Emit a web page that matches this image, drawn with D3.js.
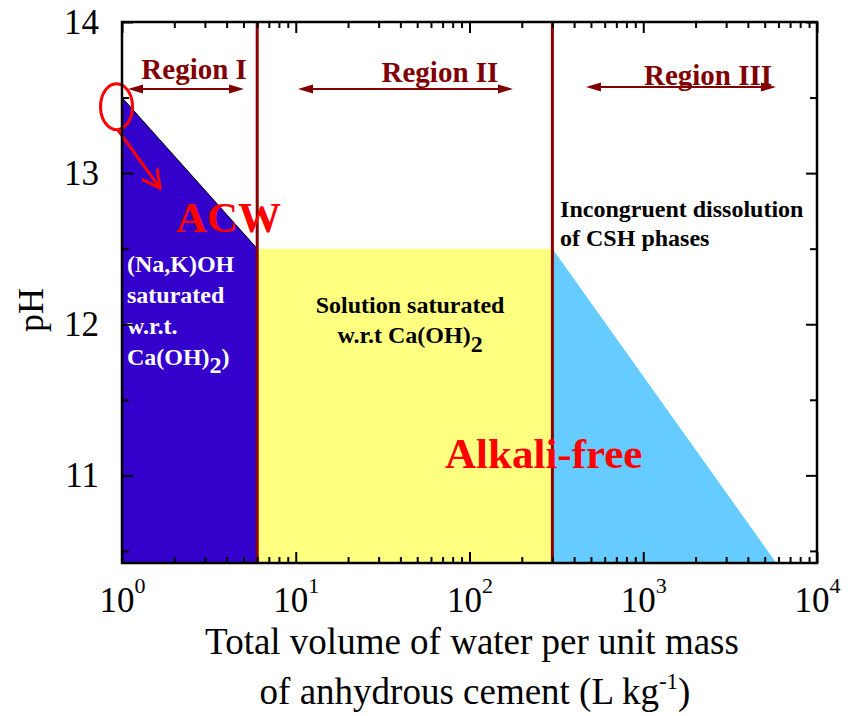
<!DOCTYPE html>
<html>
<head>
<meta charset="utf-8">
<script src="https://cdn.jsdelivr.net/npm/d3@7/dist/d3.min.js"></script>
<style>
  body { margin: 0; background: #fff; }
  svg text { font-family: "Liberation Serif", "Times New Roman", Times, serif; }
</style>
</head>
<body>
<svg id="chart" width="856" height="716"></svg>
<script>
// pH of cement pore water against water volume per unit mass of cement

// Limits between the three regions (L kg^-1)
const regionLimits = [6, 300];

// Region I: alkali (Na,K)OH dominated pore water (ACW)
const acwX = [1, 6];
const acwPH = [13.5, 12.5];

// Region II: solution buffered by portlandite
const portlanditeX = [6, 300];
const portlanditePH = [12.5, 12.5];

// Region III: incongruent dissolution of CSH
const cshX = [300, 6000];
const cshPH = [12.5, 10.4];

// Axes
const xDomain = [1, 10000];
const yDomain = [10.42, 14];
const xMajorTicks = [1, 10, 100, 1000, 10000];
const xTickExponents = ["0", "1", "2", "3", "4"];
const yMajorTicks = [11, 12, 13, 14];
const yMinorTicks = [10.5, 11.5, 12.5, 13.5];

// Region labels and their span arrows (x in L kg^-1, y in pH)
const regionNames = ["Region I", "Region II", "Region III"];
const regionLabelX = [2.6, 67.6, 2360];
const regionLabelPH = [13.62, 13.6, 13.585];
const regionArrowFrom = [1.083, 10.3, 468];
const regionArrowTo = [5.04, 178, 5800];
const regionArrowPH = [13.557, 13.557, 13.57];

const colors = {
  acw: "#3300cc",
  portlandite: "#ffff80",
  csh: "#66ccff",
  boundary: "#8b0000",
  regionText: "#800000",
  highlight: "#ff0000"
};

const svg = d3.select("#chart");
const plot = { left: 122, right: 817, top: 22, bottom: 563 };

const x = d3.scaleLog().domain(xDomain).range([plot.left, plot.right]);
const y = d3.scaleLinear().domain(yDomain).range([plot.bottom, plot.top]);

svg.append("defs").append("clipPath").attr("id", "plot-clip")
  .append("rect")
  .attr("x", plot.left).attr("y", plot.top)
  .attr("width", plot.right - plot.left).attr("height", plot.bottom - plot.top);

const toPoints = (xs, ps) => xs.map((v, i) => ({ x: v, ph: ps[i] }));

const area = d3.area()
  .x(d => x(d.x))
  .y0(y(yDomain[0]))
  .y1(d => y(d.ph));
const line = d3.line().x(d => x(d.x)).y(d => y(d.ph));

const fills = svg.append("g").attr("clip-path", "url(#plot-clip)");
fills.append("path").datum(toPoints(acwX, acwPH))
  .attr("d", area).attr("fill", colors.acw);
fills.append("path").datum(toPoints(portlanditeX, portlanditePH))
  .attr("d", area).attr("fill", colors.portlandite);
fills.append("path").datum(toPoints(cshX, cshPH))
  .attr("d", area).attr("fill", colors.csh);
fills.append("path").datum(toPoints(acwX, acwPH))
  .attr("d", line).attr("fill", "none").attr("stroke", "#000").attr("stroke-width", 1);

// Region boundaries
svg.append("g").selectAll("line").data(regionLimits).join("line")
  .attr("x1", d => x(d)).attr("x2", d => x(d))
  .attr("y1", plot.top).attr("y2", plot.bottom)
  .attr("stroke", colors.boundary).attr("stroke-width", 3);

// Region labels with double-headed arrows
function arrowHead(g, tipX, tipY, dir, color, len, half) {
  g.append("path")
    .attr("d", `M${tipX},${tipY} L${tipX - dir * len},${tipY - half} L${tipX - dir * len},${tipY + half} Z`)
    .attr("fill", color);
}
const regions = svg.append("g");
regionNames.forEach((name, i) => {
  const ay = y(regionArrowPH[i]);
  const x0 = x(regionArrowFrom[i]), x1 = x(regionArrowTo[i]);
  regions.append("line")
    .attr("x1", x0 + 6).attr("x2", x1 - 6).attr("y1", ay).attr("y2", ay)
    .attr("stroke", colors.regionText).attr("stroke-width", 2);
  arrowHead(regions, x0, ay, -1, colors.regionText, 15, 4.5);
  arrowHead(regions, x1, ay, 1, colors.regionText, 15, 4.5);
  regions.append("text")
    .attr("x", x(regionLabelX[i])).attr("y", y(regionLabelPH[i]))
    .attr("text-anchor", "middle")
    .attr("font-size", 29).attr("font-weight", "bold")
    .attr("fill", colors.regionText)
    .text(name);
});

// Multi-line labels; a line is a list of [text, baselineShift] pieces
function multiline(g, px, py, lines, opts) {
  const t = g.append("text")
    .attr("x", px).attr("y", py)
    .attr("text-anchor", opts.anchor)
    .attr("font-size", opts.size).attr("font-weight", "bold")
    .attr("fill", opts.fill);
  let prevShift = 0;
  lines.forEach((pieces, li) => {
    pieces.forEach(([str, s], pi) => {
      const ts = t.append("tspan").text(str);
      if (pi === 0) {
        ts.attr("x", px).attr("dy", (li === 0 ? 0 : opts.lineHeight) + s - prevShift);
      } else {
        ts.attr("dy", s - prevShift);
      }
      prevShift = s;
    });
  });
  return t;
}

const notes = svg.append("g");
multiline(notes, x(1.068), y(12.345), [
  [["(Na,K)OH", 0]],
  [["saturated", 0]],
  [["w.r.t.", 0]],
  [["Ca(OH)", 0], ["2", 8], [")", 0]]
], { anchor: "start", size: 24, fill: "#fff", lineHeight: 31 });

multiline(notes, x(45.5), y(12.074), [
  [["Solution saturated", 0]],
  [["w.r.t Ca(OH)", 0], ["2", 9]]
], { anchor: "middle", size: 24, fill: "#000", lineHeight: 30 });

multiline(notes, x(332), y(12.71), [
  [["Incongruent dissolution", 0]],
  [["of CSH phases", 0]]
], { anchor: "start", size: 24, fill: "#000", lineHeight: 29 });

notes.append("text")
  .attr("x", x(2.046)).attr("y", y(12.61))
  .attr("font-size", 43).attr("font-weight", "bold")
  .attr("fill", colors.highlight).text("ACW");

notes.append("text")
  .attr("x", x(72.3)).attr("y", y(11.048))
  .attr("font-size", 43).attr("font-weight", "bold")
  .attr("fill", colors.highlight).text("Alkali-free");

// Highlight of the initial pH with a pointer arrow
notes.append("ellipse")
  .attr("cx", x(0.93)).attr("cy", y(13.44))
  .attr("rx", 16).attr("ry", 23)
  .attr("fill", "none").attr("stroke", colors.highlight).attr("stroke-width", 3);
{
  const sx = x(0.948), sy = y(13.285), ex = x(1.655), ey = y(12.90);
  const ang = Math.atan2(ey - sy, ex - sx);
  const hl = 20, spread = Math.PI / 6.5;
  notes.append("path")
    .attr("d", `M${sx},${sy} L${ex},${ey}` +
      ` M${ex - hl * Math.cos(ang - spread)},${ey - hl * Math.sin(ang - spread)} L${ex},${ey}` +
      ` L${ex - hl * Math.cos(ang + spread)},${ey - hl * Math.sin(ang + spread)}`)
    .attr("fill", "none").attr("stroke", colors.highlight)
    .attr("stroke-width", 3).attr("stroke-linejoin", "miter");
}

// Axes: ticks point inwards on all four sides
const axes = svg.append("g");
const xMinorTicks = x.ticks().filter(v => !xMajorTicks.includes(v));

function styleAxis(g) {
  g.select(".domain").remove();
  g.selectAll(".tick line").attr("stroke", "#000").attr("stroke-width", 2);
}

const bottom = axes.append("g").attr("transform", `translate(0,${plot.bottom})`)
  .call(d3.axisBottom(x).tickValues(xMajorTicks).tickSizeInner(-11).tickSizeOuter(0)
    .tickPadding(24).tickFormat(""))
  .call(styleAxis);
bottom.selectAll(".tick text")
  .attr("font-size", 35).attr("fill", "#000").attr("dy", null).attr("y", 49)
  .each(function (d, i) {
    const t = d3.select(this);
    t.append("tspan").text("10");
    t.append("tspan").attr("font-size", 22).attr("dy", -19).text(xTickExponents[i]);
  });
axes.append("g").attr("transform", `translate(0,${plot.bottom})`)
  .call(d3.axisBottom(x).tickValues(xMinorTicks).tickSizeInner(-6).tickSizeOuter(0).tickFormat(""))
  .call(styleAxis);
axes.append("g").attr("transform", `translate(0,${plot.top})`)
  .call(d3.axisTop(x).tickValues(xMajorTicks).tickSizeInner(-11).tickSizeOuter(0).tickFormat(""))
  .call(styleAxis);
axes.append("g").attr("transform", `translate(0,${plot.top})`)
  .call(d3.axisTop(x).tickValues(xMinorTicks).tickSizeInner(-6).tickSizeOuter(0).tickFormat(""))
  .call(styleAxis);

const left = axes.append("g").attr("transform", `translate(${plot.left},0)`)
  .call(d3.axisLeft(y).tickValues(yMajorTicks).tickSizeInner(-11).tickSizeOuter(0)
    .tickPadding(23).tickFormat(d3.format("d")))
  .call(styleAxis);
left.selectAll(".tick text").attr("font-size", 35).attr("fill", "#000").attr("dy", "0.33em");
axes.append("g").attr("transform", `translate(${plot.left},0)`)
  .call(d3.axisLeft(y).tickValues(yMinorTicks).tickSizeInner(-7).tickSizeOuter(0).tickFormat(""))
  .call(styleAxis);
axes.append("g").attr("transform", `translate(${plot.right},0)`)
  .call(d3.axisRight(y).tickValues(yMajorTicks).tickSizeInner(-11).tickSizeOuter(0).tickFormat(""))
  .call(styleAxis);
axes.append("g").attr("transform", `translate(${plot.right},0)`)
  .call(d3.axisRight(y).tickValues(yMinorTicks).tickSizeInner(-7).tickSizeOuter(0).tickFormat(""))
  .call(styleAxis);

axes.append("rect")
  .attr("x", plot.left).attr("y", plot.top)
  .attr("width", plot.right - plot.left).attr("height", plot.bottom - plot.top)
  .attr("fill", "none").attr("stroke", "#000").attr("stroke-width", 2.5);

// Axis titles
svg.append("text")
  .attr("transform", "translate(43,310) rotate(-90)")
  .attr("text-anchor", "middle").attr("font-size", 36).text("pH");

const xTitle = svg.append("text").attr("text-anchor", "middle").attr("font-size", 37);
xTitle.append("tspan").attr("x", 472).attr("y", 654)
  .text("Total volume of water per unit mass");
const l2 = xTitle.append("tspan").attr("x", 475).attr("y", 704);
l2.append("tspan").text("of anhydrous cement (L kg");
l2.append("tspan").attr("font-size", 23).attr("dy", -15).text("-1");
l2.append("tspan").attr("dy", 15).text(")");
</script>
</body>
</html>
